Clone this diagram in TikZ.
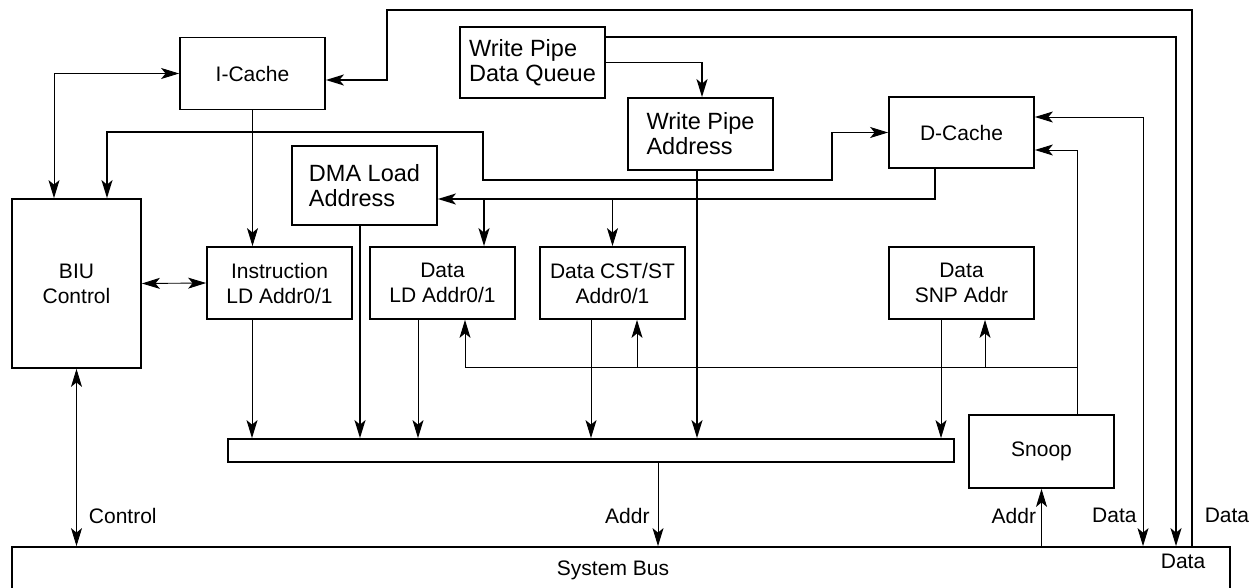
\documentclass[tikz,border=0pt]{standalone}
\usepackage{fontspec}
\setmainfont{Liberation Sans}
\usetikzlibrary{positioning, arrows.meta, calc}
\tikzset{blk/.style={draw, line width=1.8pt, minimum width=145pt, minimum height=72pt, align=center, inner sep=0pt, font=\fontsize{21}{25}\selectfont},
blk_l/.style={blk, align=left, font=\fontsize{23.5}{25}\selectfont},
lbl/.style={inner sep=2pt, font=\fontsize{21}{25}\selectfont},
thk/.style={line width=1.5pt},
thn/.style={line width=0.9pt}}

\begin{document}
\begin{tikzpicture}[x=1pt, y=-1pt, >={Stealth[length=18pt, width=11pt, inset=4.5pt]}]
  \useasboundingbox (0,0) rectangle (1257,588);
  % Blocs
  \node[blk] (icache) at (252.5,73.5) {I-Cache};
  \node[blk_l, minimum height=71pt] (wpdq) at (532.5,62.5) {Write Pipe\\Data Queue};
  \node[blk_l] (wpa) at (700.5,134) {Write Pipe\\Address};
  \node[blk, minimum height=71pt] (dcache) at (961.5,132.5) {D-Cache};
  \node[blk_l, minimum height=79pt] (dma) at (364.5,185.5) {DMA Load\\Address};
  \node[blk, minimum width=129pt, minimum height=169pt] (biu) at (76.5,283.5) {BIU\\Control};
  \node[blk] (instr) at (279.5,283) {Instruction\\LD Addr0/1};
  \node[blk] (dataLD) at (442.5,283) {Data\\LD Addr0/1};
  \node[blk] (datacst) at (612.5,283) {Data CST/ST\\Addr0/1};
  \node[blk] (datasnp) at (961.5,283) {Data\\SNP Addr};
  \node[blk, minimum width=726pt, minimum height=23pt] (bar) at (591,450.5) {};
  \node[blk, minimum height=73pt] (snoop) at (1041.5,451.5) {Snoop};
  \node[blk, minimum width=1218pt, minimum height=56pt] (bus) at (621,575) {};
  \node[lbl] (busname) at (613,570) {System Bus};
  \node[lbl] (busdata) at (1183,561) {Data};
  % Bus -> caches
  \coordinate (topR) at (1192,10);
  \coordinate (topL) at (387,10);
  \draw[thk,->] (bus.north -| topR) -- node[lbl, pos=0.058, right=10pt] {Data} (topR) -- (topL) |- ([yshift=-6.5pt]icache.east);
  \coordinate (wqR) at (1176,37);
  \draw[thk,->] ([yshift=25.5pt]wpdq.east) -- (wqR) -- (wqR |- bus.north);
  \coordinate (dcR) at (1143,117);
  \draw[thn,<->] ([yshift=15.5pt]dcache.east) -- (dcR) -- node[lbl, pos=0.928, left=4pt] {Data} (dcR |- bus.north);
  % Snoop
  \coordinate (snR) at (1077,367);
  \draw[thn,->] ([xshift=35.5pt]snoop.north) -- (snR) |- ([yshift=-17.5pt]dcache.east);
  \draw[thn,->] (snR) -| ([xshift=22.5pt]dataLD.south);
  \draw[thn,->] ([xshift=24.5pt]datacst.south |- snR) -- ([xshift=24.5pt]datacst.south);
  \draw[thn,->] ([xshift=23.5pt]datasnp.south |- snR) -- ([xshift=23.5pt]datasnp.south);
  \draw[thn,->] (snoop.south |- bus.north) -- node[lbl, pos=0.53, left=3pt] {Addr} (snoop.south);
  % Bar -> bus
  \draw[thn,->] ([xshift=67pt]bar.south) -- node[lbl, pos=0.64, left=6pt] {Addr} ([xshift=67pt]bar.south |- bus.north);
  % BIU
  \draw[thn,<->] (biu.south) -- node[lbl, pos=0.83, right=10pt] {Control} (biu.south |- bus.north);
  \draw[thn,<->] (biu.east) -- (instr.west);
  \draw[thn,<->] (icache.west) -| ([xshift=-22.5pt]biu.north);
  \coordinate (j1) at (483,132);
  \coordinate (j2) at (832,180);
  \draw[thk,<->] ([xshift=30.5pt]biu.north) |- (j1) |- (j2) |- (dcache.west);
  % Write pipe
  \draw[thk,->] (wpdq.east) -| ([xshift=1.5pt]wpa.north);
  \draw[thk,->] ([xshift=-3.5pt]wpa.south) -- ([xshift=-3.5pt]wpa.south |- bar.north);
  % D-Cache -> DMA / LD / CST
  \coordinate (dmaIn) at ([yshift=-13.5pt]dma.east);
  \draw[thk,->] ([xshift=-26.5pt]dcache.south) |- (dmaIn);
  \draw[thk,->] ([xshift=41.5pt]dataLD.north |- dmaIn) -- ([xshift=41.5pt]dataLD.north);
  \draw[thn,->] (datacst.north |- dmaIn) -- (datacst.north);
  \draw[thn,->] (icache.south) -- (icache.south |- instr.north);
  % Into bar
  \foreach \src/\dx in {instr/-27.5, dataLD/-24.5, datacst/-21.5, datasnp/-20.5}
    \draw[thn,->] ([xshift=\dx pt]\src.south) -- ([xshift=\dx pt]\src.south |- bar.north);
  \draw[thk,->] ([xshift=-4.5pt]dma.south) -- ([xshift=-4.5pt]dma.south |- bar.north);
\end{tikzpicture}
\end{document}
